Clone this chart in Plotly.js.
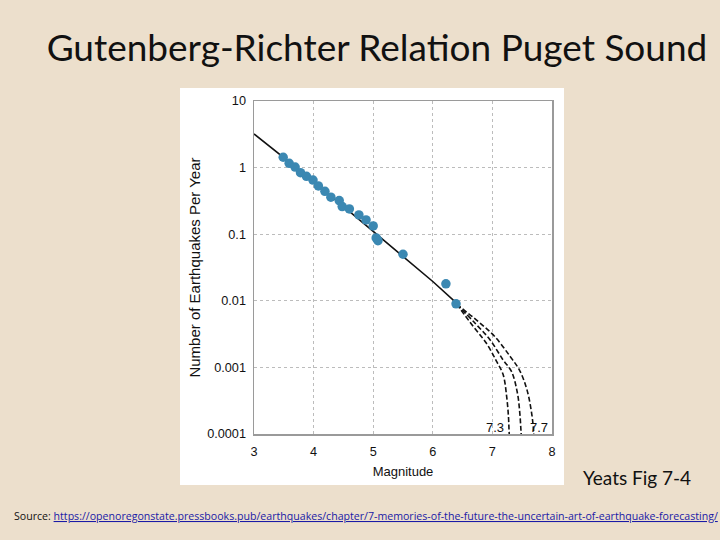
<!DOCTYPE html>
<html>
<head>
<meta charset="utf-8">
<script src="https://cdn.plot.ly/plotly-3.0.1.min.js"></script>
<style>html,body{margin:0;padding:0;background:#ecdfcc;}#chart{width:720px;height:540px;}</style>
</head>
<body>
<div id="chart"></div>
<script>
// Observed earthquakes (magnitude, number per year)
const obsMag = [3.49, 3.59, 3.69, 3.78, 3.88, 3.99, 4.08, 4.19, 4.29, 4.43, 4.48, 4.60, 4.76, 4.88, 5.00, 5.05, 5.08, 5.50, 6.22, 6.39];
const obsRate = [1.43, 1.16, 1.02, 0.84, 0.74, 0.65, 0.53, 0.44, 0.36, 0.32, 0.26, 0.24, 0.195, 0.164, 0.133, 0.088, 0.080, 0.050, 0.018, 0.009];

// Gutenberg-Richter fit line
const fitMag = [3.0, 4.0, 5.0, 5.5, 6.0, 6.45];
const fitRate = [3.2, 0.62, 0.11, 0.046, 0.0195, 0.0084];

// Truncated curves (Mmax 7.3, 7.5, 7.7)
const c73Mag = [6.40, 6.68, 6.90, 7.07, 7.18, 7.24, 7.27, 7.28, 7.30];
const c73Rate = [0.0089, 0.0041, 0.0023, 0.00123, 0.00078, 0.00036, 0.00018, 0.00011, 0.00006];
const c75Mag = [6.40, 6.71, 6.96, 7.18, 7.32, 7.42, 7.46, 7.48, 7.50];
const c75Rate = [0.0089, 0.0046, 0.0026, 0.00129, 0.00087, 0.00041, 0.000205, 0.00011, 0.00006];
const c77Mag = [6.40, 6.76, 7.04, 7.30, 7.46, 7.58, 7.65, 7.69, 7.70];
const c77Rate = [0.0089, 0.0049, 0.0029, 0.00145, 0.00089, 0.00046, 0.00023, 0.000115, 0.00006];

const yTickVals = [10, 1, 0.1, 0.01, 0.001, 0.0001];
const yTickText = ['10', '1', '0.1', '0.01', '0.001', '0.0001'];
const xTickVals = [3, 4, 5, 6, 7, 8];
const curveLabels = ['7.3', '7.7'];
const curveLabelX = [7.05, 7.79];

const dashStyle = {color: '#111', width: 1.6, dash: '5px,2.5px', shape: 'spline'};
const traces = [
  {x: fitMag, y: fitRate, mode: 'lines', line: {color: '#111', width: 1.6}},
  {x: c73Mag, y: c73Rate, mode: 'lines', line: dashStyle},
  {x: c75Mag, y: c75Rate, mode: 'lines', line: dashStyle},
  {x: c77Mag, y: c77Rate, mode: 'lines', line: dashStyle},
  {x: obsMag, y: obsRate, mode: 'markers', marker: {color: '#3b88b2', size: 9.5}}
];

const pw = 720, L = 254, R = 552, T = 101, B = 434;
const fx = px => (px - L) / (R - L);
const fy = py => (B - py) / (B - T);
const axFont = {family: 'Liberation Sans, Arial, sans-serif', size: 12.7, color: '#111'};

const annotations = curveLabels.map((t, i) => ({
  x: curveLabelX[i], y: Math.log10(0.000125), xref: 'x', yref: 'y', text: t, showarrow: false,
  font: {family: 'Liberation Sans, Arial, sans-serif', size: 13, color: '#111'}, xanchor: 'center', yanchor: 'middle'
}));
annotations.push({
  x: fx(637), y: fy(477), xref: 'paper', yref: 'paper', text: 'Yeats Fig 7-4', showarrow: false,
  font: {family: 'Lato, Open Sans, sans-serif', size: 19, color: '#111'}, xanchor: 'center', yanchor: 'middle'
});
annotations.push({
  x: fx(12), y: fy(516), xref: 'paper', yref: 'paper', showarrow: false, xanchor: 'left', yanchor: 'middle',
  text: 'Source: <a href="https://openoregonstate.pressbooks.pub/earthquakes/chapter/7-memories-of-the-future-the-uncertain-art-of-earthquake-forecasting/" style="color:#1a1aa6;text-decoration:underline">https://openoregonstate.pressbooks.pub/earthquakes/chapter/7-memories-of-the-future-the-uncertain-art-of-earthquake-forecasting/</a>',
  font: {family: 'Open Sans, sans-serif', size: 10.6, color: '#111'}
});

const layout = {
  width: 720, height: 540,
  paper_bgcolor: '#ecdfcc', plot_bgcolor: '#ffffff',
  margin: {l: L, r: pw - R, t: T, b: 540 - B},
  showlegend: false,
  title: {text: 'Gutenberg-Richter Relation Puget Sound', xref: 'container', yref: 'container',
    x: 377 / 720, y: 1 - 48 / 540, xanchor: 'center', yanchor: 'middle',
    font: {family: 'Lato, Open Sans, sans-serif', size: 37, color: '#111'}},
  xaxis: {range: [3, 8], tickvals: xTickVals, showgrid: true, gridcolor: '#bcbcbc', griddash: 'dot', gridwidth: 1,
    showline: true, mirror: true, linecolor: '#9a9a9a', linewidth: 1.5, zeroline: false, ticks: '',
    ticklabelstandoff: 5, tickfont: axFont,
    title: {text: 'Magnitude', font: {family: 'Liberation Sans, Arial, sans-serif', size: 13, color: '#111'}, standoff: 9}},
  yaxis: {type: 'log', range: [-4, 1], tickvals: yTickVals, ticktext: yTickText, showgrid: true, gridcolor: '#bcbcbc', griddash: 'dot', gridwidth: 1,
    showline: true, mirror: true, linecolor: '#9a9a9a', linewidth: 1.5, zeroline: false, ticks: '',
    ticklabelstandoff: 4, tickfont: axFont,
    title: {text: 'Number of Earthquakes Per Year', font: {family: 'Liberation Sans, Arial, sans-serif', size: 15, color: '#111'}, standoff: 3}},
  shapes: [{type: 'rect', xref: 'paper', yref: 'paper', layer: 'below',
    x0: fx(180), x1: fx(564), y0: fy(485), y1: fy(88), fillcolor: '#ffffff', line: {width: 0}}],
  annotations: annotations
};

Plotly.newPlot('chart', traces, layout, {displayModeBar: false, staticPlot: true});
</script>
</body>
</html>
